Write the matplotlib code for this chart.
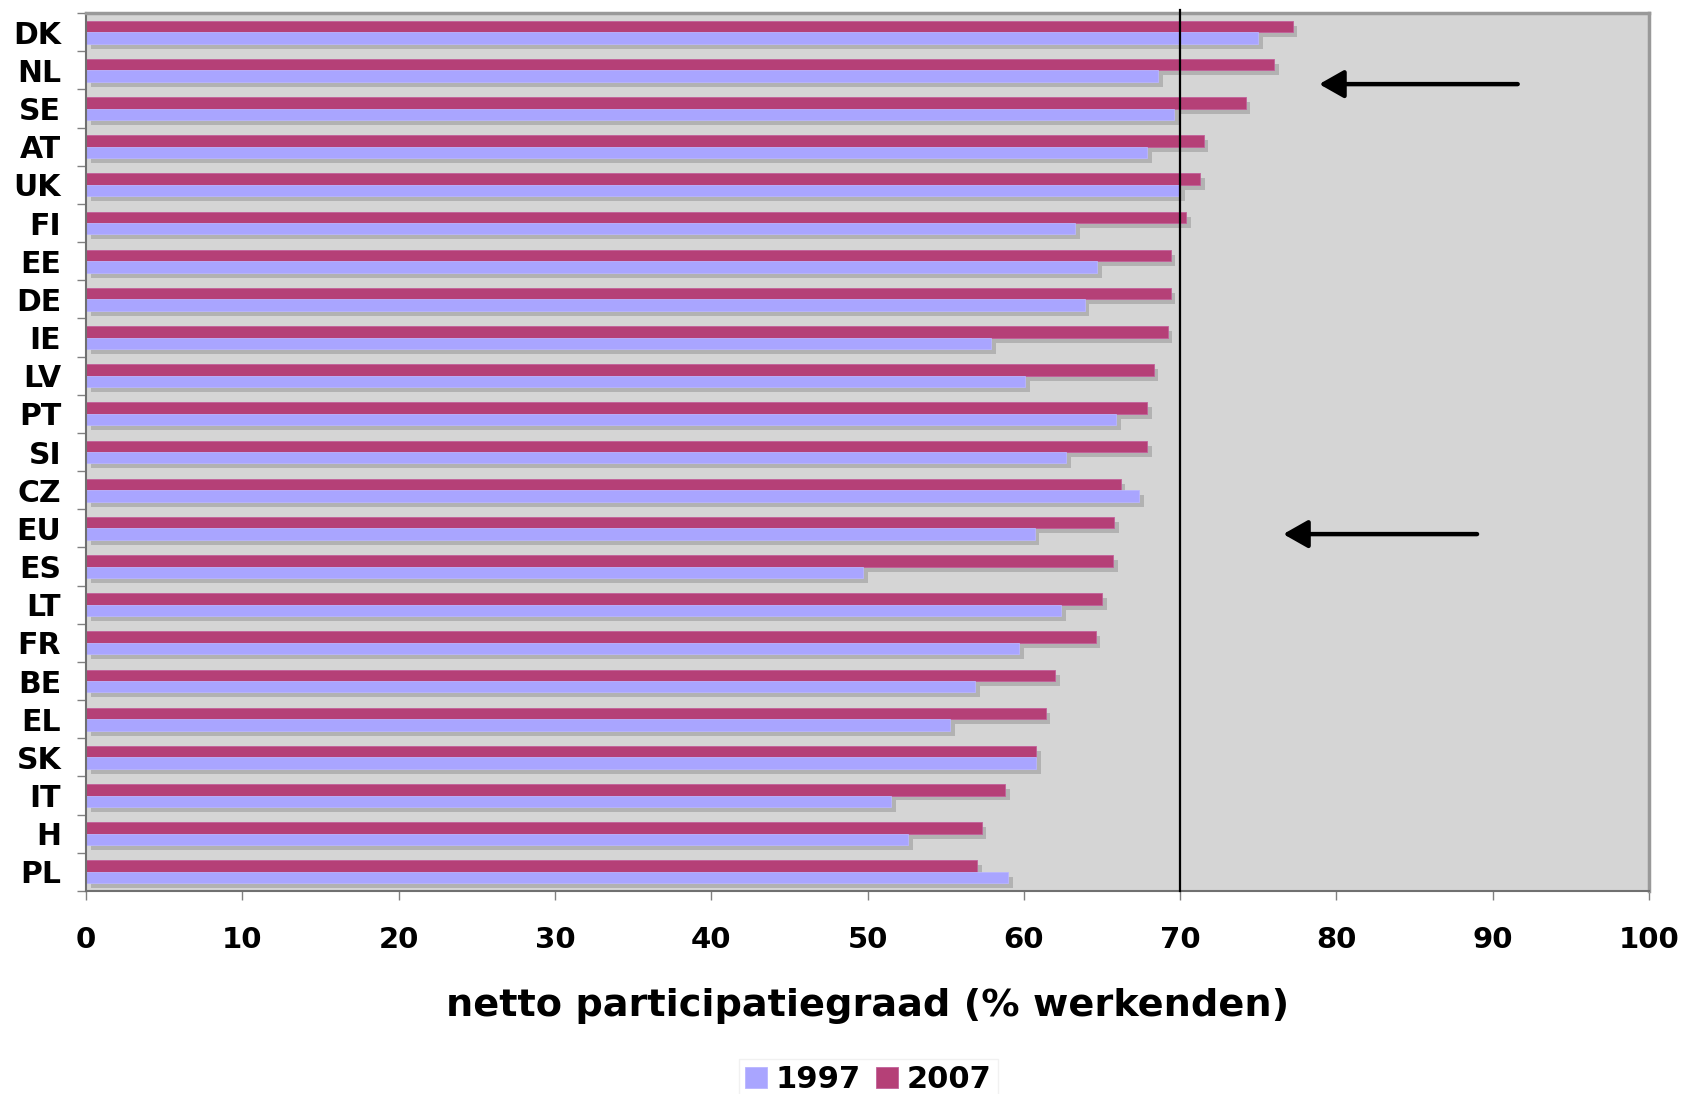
import matplotlib.pyplot as plt
import numpy as np

countries = ['DK', 'NL', 'SE', 'AT', 'UK', 'FI', 'EE', 'DE', 'IE', 'LV', 'PT', 'SI',
             'CZ', 'EU', 'ES', 'LT', 'FR', 'BE', 'EL', 'SK', 'IT', 'H', 'PL']
v1997 = [75.0, 68.6, 69.6, 67.9, 70.0, 63.3, 64.7, 63.9, 57.9, 60.1, 65.9, 62.7,
         67.4, 60.7, 49.7, 62.4, 59.7, 56.9, 55.3, 60.8, 51.5, 52.6, 59.0]
v2007 = [77.2, 76.0, 74.2, 71.5, 71.3, 70.4, 69.4, 69.4, 69.2, 68.3, 67.9, 67.9,
         66.2, 65.8, 65.7, 65.0, 64.6, 62.0, 61.4, 60.8, 58.8, 57.3, 57.0]
target = 70
arrow_rows = ['NL', 'EU']

c97 = '#a9a5ff'
c07 = '#b54077'
shadow = '#b2b2b2'

fig = plt.figure(figsize=(16.84, 10.94), dpi=100)
ax = fig.add_axes([0.0511, 0.1856, 0.9281, 0.8024])
ax.set_facecolor('#d5d5d5')

y = np.arange(len(countries))
h = 0.30
dx, dy = 0.3, 0.13

# shadows first
ax.barh(y - h / 2 + dy, v2007, height=h, left=dx, color=shadow, zorder=1)
ax.barh(y + h / 2 + dy, v1997, height=h, left=dx, color=shadow, zorder=1)
ax.barh(y - h / 2, v2007, height=h, color=c07, edgecolor='#c2609a', linewidth=0.6, zorder=2, label='2007')
ax.barh(y + h / 2, v1997, height=h, color=c97, edgecolor='#b9b5ff', linewidth=0.6, zorder=2, label='1997')

ax.set_xlim(0, 100)
ax.set_ylim(len(countries) - 0.5, -0.5)

ax.axvline(target, ymin=0, ymax=1.004, color='black', lw=1.6, zorder=3, clip_on=False)

for name, tail, head in zip(arrow_rows, [91.6, 89.0], [78.9, 76.6]):
    yy = countries.index(name) + 0.36 if name == 'NL' else countries.index(name) + 0.15
    ax.annotate('', xy=(head, yy), xytext=(tail, yy),
                arrowprops=dict(arrowstyle='-|>,head_length=1.5,head_width=0.85',
                                color='black', lw=3.2, shrinkA=0, shrinkB=0), zorder=4)

ax.set_yticks(y)
ax.set_yticklabels(countries, fontsize=21.5, fontweight='bold')
ax.set_yticks(np.arange(len(countries) + 1) - 0.5, minor=True)
ax.tick_params(axis='y', which='major', length=0, pad=18)
ax.tick_params(axis='y', which='minor', length=6.5, width=1, color='#808080')

ax.set_xticks(np.arange(0, 101, 10))
ax.set_xticklabels([str(v) for v in range(0, 101, 10)], fontsize=21, fontweight='bold')
ax.tick_params(axis='x', length=6.5, width=1, color='#808080', pad=19)

ax.set_xlabel('netto participatiegraad (% werkenden)', fontsize=27.5, fontweight='bold', labelpad=24)

for side in ['top', 'right']:
    ax.spines[side].set_color('#999999')
    ax.spines[side].set_linewidth(2.5)
for side in ['left', 'bottom']:
    ax.spines[side].set_color('#707070')
    ax.spines[side].set_linewidth(1.5)

handles, labels = ax.get_legend_handles_labels()
leg = fig.legend(handles[::-1], labels[::-1], loc='upper left', bbox_to_anchor=(0.439, 0.032),
                 ncol=2, frameon=True, fancybox=False, edgecolor='#eeeeee',
                 prop={'size': 22, 'weight': 'bold'}, handlelength=0.7, handleheight=0.7,
                 handletextpad=0.3, columnspacing=0.5, borderpad=0.2, borderaxespad=0)

fig.savefig('out.png', dpi=100)
